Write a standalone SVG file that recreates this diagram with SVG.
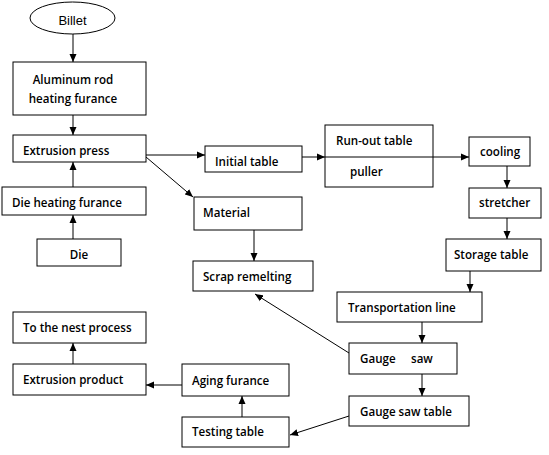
<svg xmlns="http://www.w3.org/2000/svg" width="549" height="455" viewBox="0 0 549 455">
<defs>
<marker id="ah" markerWidth="8" markerHeight="8" refX="8" refY="4" orient="auto" markerUnits="userSpaceOnUse">
<path d="M0,0.5 L8,4 L0,7.5 Z" fill="#000"/>
</marker>
<style>
rect, ellipse { fill: #fff; stroke: #000; stroke-width: 1; }
.c line { stroke: #000; stroke-width: 1; }
.c line.a { marker-end: url(#ah); }
text { font-family: "Open Sans", "Noto Sans", sans-serif; font-size: 11.6px; font-weight: 600; fill: #000; }
.ar { font-family: "Liberation Sans", Arial, sans-serif; font-size: 13px; font-weight: normal; }
</style>
</defs>
<rect x="0" y="0" width="549" height="455" style="fill:#fff;stroke:none"/>
<g class="c" id="connectors">
<line class="a" x1="73" y1="34" x2="73" y2="62"/>
<line class="a" x1="73" y1="115" x2="73" y2="135"/>
<line class="a" x1="73" y1="187" x2="73" y2="162"/>
<line class="a" x1="73" y1="239" x2="73" y2="215"/>
<line class="a" x1="146" y1="155" x2="205" y2="155"/>
<line class="a" x1="146" y1="157" x2="193" y2="197"/>
<line class="a" x1="302" y1="157" x2="325" y2="157"/>
<line class="a" x1="325" y1="157" x2="469" y2="157"/>
<line class="a" x1="507" y1="166" x2="507" y2="188"/>
<line class="a" x1="507" y1="218" x2="507" y2="239"/>
<line class="a" x1="470" y1="271" x2="470" y2="292"/>
<line class="a" x1="422" y1="322" x2="422" y2="343"/>
<line class="a" x1="422" y1="374" x2="422" y2="396"/>
<line class="a" x1="254" y1="230" x2="254" y2="261"/>
<line class="a" x1="349" y1="353" x2="255" y2="294"/>
<line class="a" x1="349" y1="416" x2="290" y2="435"/>
<line class="a" x1="242" y1="417" x2="242" y2="396"/>
<line class="a" x1="182" y1="385" x2="146" y2="385"/>
<line class="a" x1="73" y1="364" x2="73" y2="343"/>
</g>
<g id="billet"><ellipse cx="72.5" cy="18" rx="42.5" ry="16"/><text class="ar" x="72.5" y="25" text-anchor="middle">Billet</text></g>
<g id="aluminum-rod"><rect x="13" y="62" width="133" height="53"/><text x="73" y="84" text-anchor="middle">Aluminum rod</text><text x="73" y="103" text-anchor="middle">heating furance</text></g>
<g id="extrusion-press"><rect x="13" y="135" width="133" height="27"/><text x="23" y="155">Extrusion press</text></g>
<g id="die-heating"><rect x="2" y="187" width="144" height="28"/><text x="12" y="207">Die heating furance</text></g>
<g id="die"><rect x="37" y="239" width="84" height="27"/><text x="79" y="259" text-anchor="middle">Die</text></g>
<g id="initial-table"><rect x="205" y="146" width="97" height="26"/><text x="215" y="166">Initial table</text></g>
<g id="material"><rect x="194" y="197" width="108" height="33"/><text x="203" y="217">Material</text></g>
<g id="run-out"><rect x="325" y="125" width="108" height="62"/><text x="336" y="145">Run-out table</text><text x="350" y="176">puller</text></g>
<line x1="325" y1="157" x2="433" y2="157" style="stroke:#000;stroke-width:1"/>
<g id="cooling"><rect x="469" y="137" width="61" height="29"/><text x="480" y="156">cooling</text></g>
<g id="stretcher"><rect x="469" y="188" width="72" height="30"/><text x="479" y="207">stretcher</text></g>
<g id="storage-table"><rect x="446" y="239" width="95" height="32"/><text x="454" y="259">Storage table</text></g>
<g id="transportation-line"><rect x="337" y="292" width="145" height="30"/><text x="348" y="312">Transportation line</text></g>
<g id="gauge-saw"><rect x="349" y="343" width="108" height="31"/><text x="360" y="363">Gauge</text><text x="411" y="363">saw</text></g>
<g id="gauge-saw-table"><rect x="349" y="396" width="120" height="30"/><text x="360" y="416">Gauge saw table</text></g>
<g id="scrap-remelting"><rect x="193" y="261" width="120" height="30"/><text x="203" y="281">Scrap remelting</text></g>
<g id="next-process"><rect x="13" y="312" width="133" height="31"/><text x="23" y="332">To the nest process</text></g>
<g id="extrusion-product"><rect x="13" y="364" width="133" height="31"/><text x="23" y="384">Extrusion product</text></g>
<g id="aging-furance"><rect x="182" y="364" width="107" height="32"/><text x="192" y="385">Aging furance</text></g>
<g id="testing-table"><rect x="182" y="417" width="107" height="30"/><text x="192" y="436">Testing table</text></g>
</svg>
